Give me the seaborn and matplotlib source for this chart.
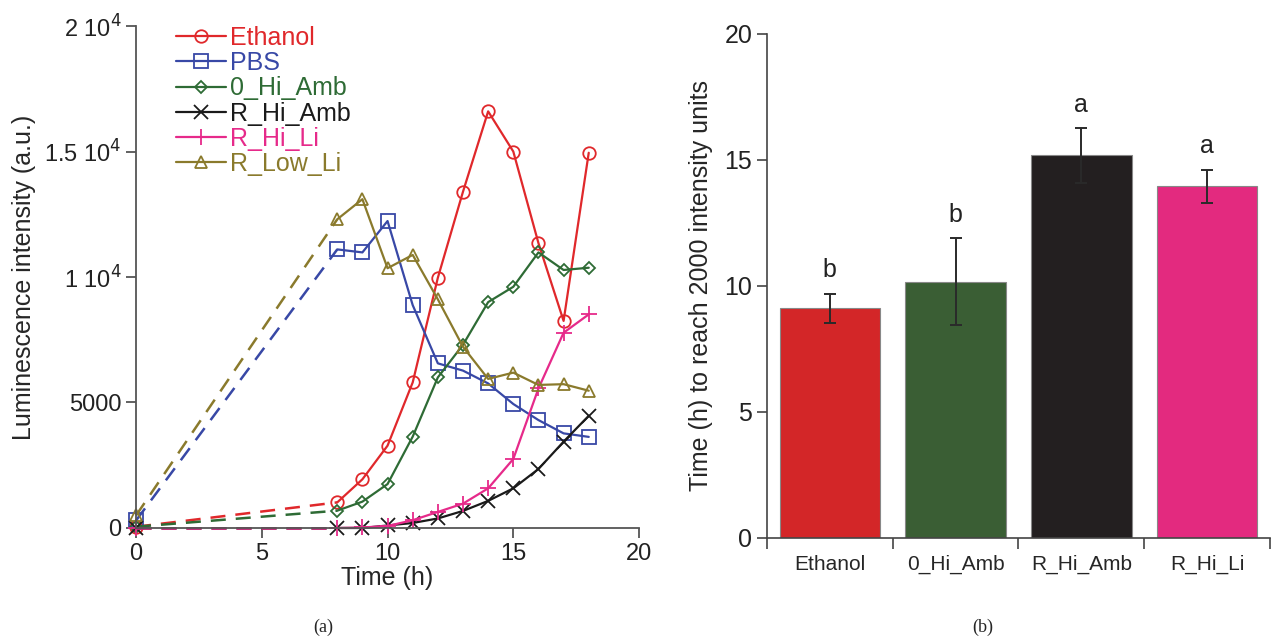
import matplotlib
matplotlib.use("Agg")
import matplotlib.pyplot as plt
import seaborn as sns
import numpy as np
import pandas as pd

# Data
hours = [0, 8, 9, 10, 11, 12, 13, 14, 15, 16, 17, 18]
ethanol = [50, 1020, 1940, 3280, 5800, 9970, 13400, 16600, 15000, 11350, 8250, 14950]
pbs = [300, 11100, 10980, 12230, 8880, 6560, 6270, 5760, 4940, 4300, 3770, 3630]
hi_amb_0 = [50, 690, 1050, 1750, 3640, 6000, 7300, 9000, 9610, 10980, 10280, 10370]
r_hi_amb = [0, 0, 0, 100, 200, 380, 680, 1080, 1580, 2350, 3440, 4470]
r_hi_li = [0, 0, 20, 80, 310, 640, 970, 1580, 2750, 5560, 7780, 8510]
r_low_li = [500, 12300, 13100, 10350, 10880, 9110, 7220, 5940, 6190, 5700, 5730, 5470]

series_names = ["Ethanol", "PBS", "0_Hi_Amb", "R_Hi_Amb", "R_Hi_Li", "R_Low_Li"]
series_values = [ethanol, pbs, hi_amb_0, r_hi_amb, r_hi_li, r_low_li]
series_colors = ["#e0282b", "#3848a6", "#2e6b35", "#1a1a1a", "#e62a8a", "#8a7a2c"]
series_markers = ["o", "s", "D", "x", "+", "^"]
series_msize = [9, 10, 6.5, 10, 12, 9]

bar_groups = ["Ethanol", "0_Hi_Amb", "R_Hi_Amb", "R_Hi_Li"]
bar_means = [9.12, 10.17, 15.18, 13.95]
bar_errors = [0.57, 1.73, 1.09, 0.66]
bar_letters = ["b", "b", "a", "a"]
bar_colors = ["#d32628", "#3a5e34", "#231f20", "#e32a7f"]

sns.set_style("ticks")
plt.rcParams["font.family"] = ["Liberation Sans", "DejaVu Sans"]

fig = plt.figure(figsize=(12.74, 6.41), dpi=100)
ax1 = fig.add_axes([0.1068, 0.1763, 0.3948, 0.7831])
ax2 = fig.add_axes([0.602, 0.1607, 0.3948, 0.7863])

# ---- panel (a): luminescence time course
handles = []
for name, vals, col, mk, ms in zip(series_names, series_values, series_colors,
                                   series_markers, series_msize):
    df = pd.DataFrame({"t": hours, "v": vals})
    # dashed gap between 0 h and 8 h
    sns.lineplot(data=df.iloc[:2], x="t", y="v", ax=ax1, color=col,
                 linestyle=(0, (6, 4)), linewidth=1.8)
    sns.lineplot(data=df.iloc[1:], x="t", y="v", ax=ax1, color=col,
                 linewidth=1.6, marker=mk, markersize=ms,
                 markerfacecolor="none", markeredgecolor=col,
                 markeredgewidth=1.3)
    sns.lineplot(data=df.iloc[:1], x="t", y="v", ax=ax1, color=col,
                 marker=mk, markersize=ms, markerfacecolor="none",
                 markeredgecolor=col, markeredgewidth=1.3)
    handles.append(plt.Line2D([], [], color=col, linewidth=1.6, marker=mk,
                              markersize=ms, markerfacecolor="none",
                              markeredgecolor=col, markeredgewidth=1.3))

leg = ax1.legend(handles, series_names, loc="upper left",
                 bbox_to_anchor=(0.06, 1.02), frameon=False, fontsize=18,
                 handlelength=2.0, handletextpad=0.15, labelspacing=0.05,
                 borderaxespad=0)
for txt, col in zip(leg.get_texts(), series_colors):
    txt.set_color(col)

ax1.set_xlim(0, 20)
ax1.set_ylim(0, 20000)
ax1.set_xticks([0, 5, 10, 15, 20])
ax1.set_yticks([0, 5000, 10000, 15000, 20000])
ax1.set_yticklabels(["0", "5000", r"1 10$^4$", r"1.5 10$^4$", r"2 10$^4$"])
ax1.set_xlabel("Time (h)", fontsize=18, labelpad=1)
ax1.set_ylabel("Luminescence intensity (a.u.)", fontsize=18, labelpad=6)
ax1.tick_params(labelsize=17, length=7, width=1.3, color="#555555",
                labelcolor="#222222")
sns.despine(ax=ax1)
for sp in ["left", "bottom"]:
    ax1.spines[sp].set_color("#555555")
    ax1.spines[sp].set_linewidth(1.3)
for ln in ax1.lines:
    ln.set_clip_on(False)

# ---- panel (b): time to reach 2000 units
bdf = pd.DataFrame({"group": bar_groups, "hours": bar_means})
sns.barplot(data=bdf, x="group", y="hours", hue="group", palette=bar_colors,
            saturation=1, legend=False, ax=ax2, width=0.8,
            edgecolor="#888888", linewidth=0.8, errorbar=None)
ax2.errorbar(range(len(bar_groups)), bar_means, yerr=bar_errors, fmt="none",
             ecolor="#2a2a2a", elinewidth=1.4, capsize=4, capthick=1.4)
for i, (m, e, lt) in enumerate(zip(bar_means, bar_errors, bar_letters)):
    ax2.text(i, m + e + 0.45, lt, ha="center", va="bottom", fontsize=18,
             color="#222222")

ax2.set_xlim(-0.5, 3.5)
ax2.set_ylim(0, 20)
ax2.set_yticks([0, 5, 10, 15, 20])
ax2.set_xticks(range(len(bar_groups)))
ax2.set_xticklabels(bar_groups)
ax2.set_xticks([-0.5, 0.5, 1.5, 2.5, 3.5], minor=True)
ax2.tick_params(axis="x", which="major", length=0, labelsize=15, pad=12)
ax2.tick_params(axis="x", which="minor", length=8, width=1.2,
                color="#444444")
ax2.tick_params(axis="y", labelsize=18, length=7, width=1.2,
                color="#444444", labelcolor="#222222")
ax2.set_xlabel("")
ax2.set_ylabel("Time (h) to reach 2000 intensity units", fontsize=18,
               labelpad=8)
sns.despine(ax=ax2)
for sp in ["left", "bottom"]:
    ax2.spines[sp].set_color("#444444")
    ax2.spines[sp].set_linewidth(1.2)

fig.text(323 / 1274, 1 - 627 / 641, "(a)", ha="center", va="center",
         fontsize=13, family="Liberation Serif")
fig.text(983 / 1274, 1 - 627 / 641, "(b)", ha="center", va="center",
         fontsize=13, family="Liberation Serif")

fig.savefig("out.png", dpi=100)
